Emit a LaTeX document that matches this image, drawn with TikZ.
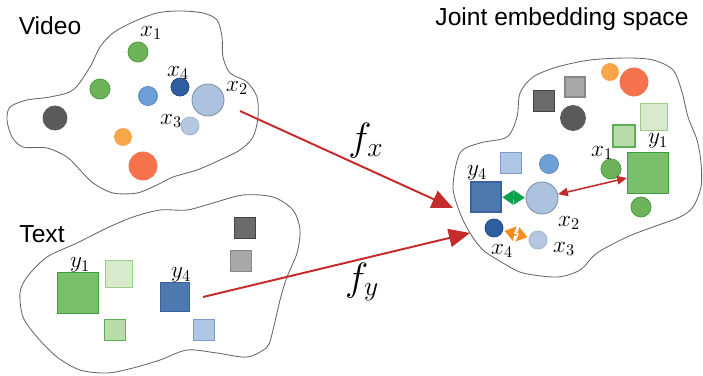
\documentclass[tikz,border=0pt]{standalone}
\usepackage{fix-cm}
\usepackage{fontspec}
\newfontfamily\sansfont{Liberation Sans}
\usetikzlibrary{arrows.meta,calc}

\definecolor{cgreen}{HTML}{6CB35A}
\definecolor{cgreenl}{HTML}{4C9A3E}
\definecolor{cgreenb}{HTML}{7ABF6A}
\definecolor{cgreenbl}{HTML}{3D9B40}
\definecolor{cpale}{HTML}{D7EACD}
\definecolor{cpalel}{HTML}{9DCB8A}
\definecolor{cmint}{HTML}{B9DDA9}
\definecolor{cmintl}{HTML}{5FAE55}
\definecolor{cblue}{HTML}{6C9FD6}
\definecolor{cbluel}{HTML}{5A8BC4}
\definecolor{cdblue}{HTML}{2E5E9F}
\definecolor{cdbluel}{HTML}{234C85}
\definecolor{clblue}{HTML}{ADC2DF}
\definecolor{clbluel}{HTML}{7E8FA8}
\definecolor{clblue2}{HTML}{B4C8E2}
\definecolor{clblue2l}{HTML}{A0B4D0}
\definecolor{clsq}{HTML}{AFC6E5}
\definecolor{clsql}{HTML}{7E9CCB}
\definecolor{csq}{HTML}{4E79AE}
\definecolor{csql}{HTML}{3A629A}
\definecolor{cdgray}{HTML}{5A5A5A}
\definecolor{cdgsq}{HTML}{6B6B6B}
\definecolor{cdgsql}{HTML}{444444}
\definecolor{cgsq}{HTML}{A8A8A8}
\definecolor{cgsql}{HTML}{888888}
\definecolor{corange}{HTML}{F7A74A}
\definecolor{cred}{HTML}{F4734D}
\definecolor{arrred}{HTML}{C42B2B}
\definecolor{arrgreen}{HTML}{0AA24A}
\definecolor{arrorange}{HTML}{F78D1E}

\begin{document}
\begin{tikzpicture}[x=0.025cm, y=-0.025cm,
  dot/.style args={#1/#2/#3}{circle, inner sep=0pt, minimum size=#3*0.05cm, fill=#1, draw=#2, line width=0.6pt},
  box/.style args={#1/#2/#3}{rectangle, inner sep=0pt, minimum size=#3*0.025cm, fill=#1, draw=#2, line width=0.8pt},
  blob/.style={draw=black!60, line width=0.6pt},
  lab/.style={font=\fontsize{16.5}{19}\selectfont, inner sep=0pt},
  flab/.style={font=\fontsize{28}{32}\selectfont, inner sep=0pt},
  title/.style={font=\sansfont\fontsize{17.5}{20}\selectfont, inner sep=0pt},
  maparrow/.style={-{Triangle[length=15pt,width=13pt]}, draw=arrred, line width=1.4pt},
  pairarrow/.style={{Triangle[length=7pt,width=6pt]}-{Triangle[length=7pt,width=6pt]}, draw=arrred, line width=1.1pt},
  greenarrow/.style={{Triangle[length=8pt,width=10pt]}-{Triangle[length=8pt,width=10pt]}, draw=arrgreen, line width=2.5pt, shorten <=0.5pt, shorten >=0.5pt},
  orangearrow/.style={{Triangle[length=7.5pt,width=10pt]}-{Triangle[length=7.5pt,width=10pt]}, draw=arrorange, line width=2.5pt, shorten <=1pt, shorten >=1pt}]
\useasboundingbox (0,0) rectangle (703,375);

% the three spaces
\draw[blob] plot[smooth cycle] coordinates {(73,90) (90,67) (100,47) (113,33) (133,22) (157,13) (180,11) (203,13) (217,20) (222,37) (223,57) (230,73) (247,82) (257,97) (258,117) (253,137) (240,150) (220,160) (197,170) (173,177) (157,185) (137,193) (113,193) (93,183) (80,170) (67,157) (47,148) (23,147) (12,137) (7,120) (10,107) (27,100) (50,97)};
\draw[blob] plot[smooth cycle] coordinates {(20,293) (27,277) (47,257) (77,243) (107,228) (133,217) (160,210) (187,210) (213,203) (243,195) (273,197) (293,210) (300,230) (297,253) (287,277) (280,300) (273,330) (267,347) (247,357) (217,353) (187,350) (160,360) (133,368) (107,373) (80,370) (57,357) (37,337) (23,317)};
\draw[blob] plot[smooth cycle] coordinates {(453,187) (460,153) (480,143) (507,137) (517,117) (520,93) (533,77) (557,67) (590,60) (627,58) (653,60) (673,70) (682,92) (688,117) (697,140) (701,163) (701,187) (693,207) (680,217) (653,227) (627,237) (597,253) (580,270) (557,277) (523,273) (503,263) (483,250) (470,233) (460,213)};

\node[title] (tvideo) at (50,26) {Video};
\node[title] (ttext) at (42,234) {Text};
\node[title] (tjoint) at (562,19) {Joint embedding space};

% video space
\node[dot=cgreen/cgreenl/10] (vx1) at (138,52) {};
\node[dot=cgreen/cgreenl/10] (vg) at (100,89) {};
\node[dot=cblue/cbluel/9.5] (vb) at (148,96) {};
\node[dot=cdblue/cdbluel/9] (vx4) at (180,87) {};
\node[dot=clblue/clbluel/16] (vx2) at (208,100) {};
\node[dot=clblue2/clblue2l/9] (vx3) at (190,126) {};
\node[dot=cdgray/cdgray/12] (vk) at (55,118) {};
\node[dot=corange/corange/8.5] (vo) at (123,137) {};
\node[dot=cred/cred/14] (vr) at (143,166) {};
\node[lab] (lvx1) at (151,33) {$x_1$};
\node[lab] (lvx4) at (178,73) {$x_4$};
\node[lab] (lvx2) at (237,88) {$x_2$};
\node[lab] (lvx3) at (171,121) {$x_3$};

% text space
\node[box=cgreenb/cgreenbl/41] (ty1) at (78,293) {};
\node[box=cpale/cpalel/27] (tp) at (119,274) {};
\node[box=cmint/cmintl/21] (tm) at (115,330) {};
\node[box=csq/csql/29] (ty4) at (175,297) {};
\node[box=clsq/clsql/21] (tl) at (204,330) {};
\node[box=cdgsq/cdgsql/21] (tk) at (245,228) {};
\node[box=cgsq/cgsql/21] (tg) at (241,261) {};
\node[lab] (lty1) at (80,265) {$y_1$};
\node[lab] (lty4) at (181,275) {$y_4$};

% joint space
\node[dot=corange/corange/8.5] (jo) at (610,72) {};
\node[dot=cred/cred/14] (jr) at (634,82) {};
\node[box=cgsq/cgsql/20] (jg) at (575,87) {};
\node[box=cdgsq/cdgsql/21] (jk) at (544,101) {};
\node[dot=cdgray/cdgray/12.5] (jkc) at (573,118) {};
\node[box=cpale/cpalel/27] (jp) at (654,117) {};
\node[box=cmint/cmintl/22] (jm) at (624,136) {};
\node[box=cgreenb/cgreenbl/41] (jy1) at (648,173) {};
\node[dot=cgreen/cgreenl/10] (jx1) at (611,169) {};
\node[dot=cgreen/cgreenl/10] (jg2) at (641,207) {};
\node[box=clsq/clsql/21] (jl) at (511,163) {};
\node[dot=cblue/cbluel/9.5] (jb) at (549,164) {};
\node[box=csq/csql/30] (jy4) at (486,197) {};
\node[dot=clblue/clbluel/16] (jx2) at (542,198) {};
\node[dot=cdblue/cdbluel/9] (jx4) at (494,228) {};
\node[dot=clblue2/clblue2l/9] (jx3) at (538,240) {};
\node[lab] (ljy1) at (658,141) {$y_1$};
\node[lab] (ljx1) at (602,153) {$x_1$};
\node[lab] (ljy4) at (477,173) {$y_4$};
\node[lab] (ljx2) at (569,223) {$x_2$};
\node[lab] (ljx4) at (502,251) {$x_4$};
\node[lab] (ljx3) at (564,249) {$x_3$};

\draw[pairarrow] (jx2) -- (jy1);
\draw[greenarrow] (jy4) -- (jx2);
\draw[orangearrow] (jx4) -- (jx3);
\draw[white, line width=1pt] ($(jx4)!0.5!(jx3)$) ++(1,-6) -- ++(-2,5) -- ++(3,1) -- ++(-2,5);

% the two maps
\coordinate (fxs) at (240,111);
\coordinate (fxe) at (453,208);
\coordinate (fys) at (203,297);
\coordinate (fye) at (470,233);
\draw[maparrow] (fxs) -- (fxe);
\draw[maparrow] (fys) -- (fye);
\node[flab] (fx) at (366,141) {$f_x$};
\node[flab] (fy) at (362,282) {$f_y$};

\end{tikzpicture}
\end{document}
